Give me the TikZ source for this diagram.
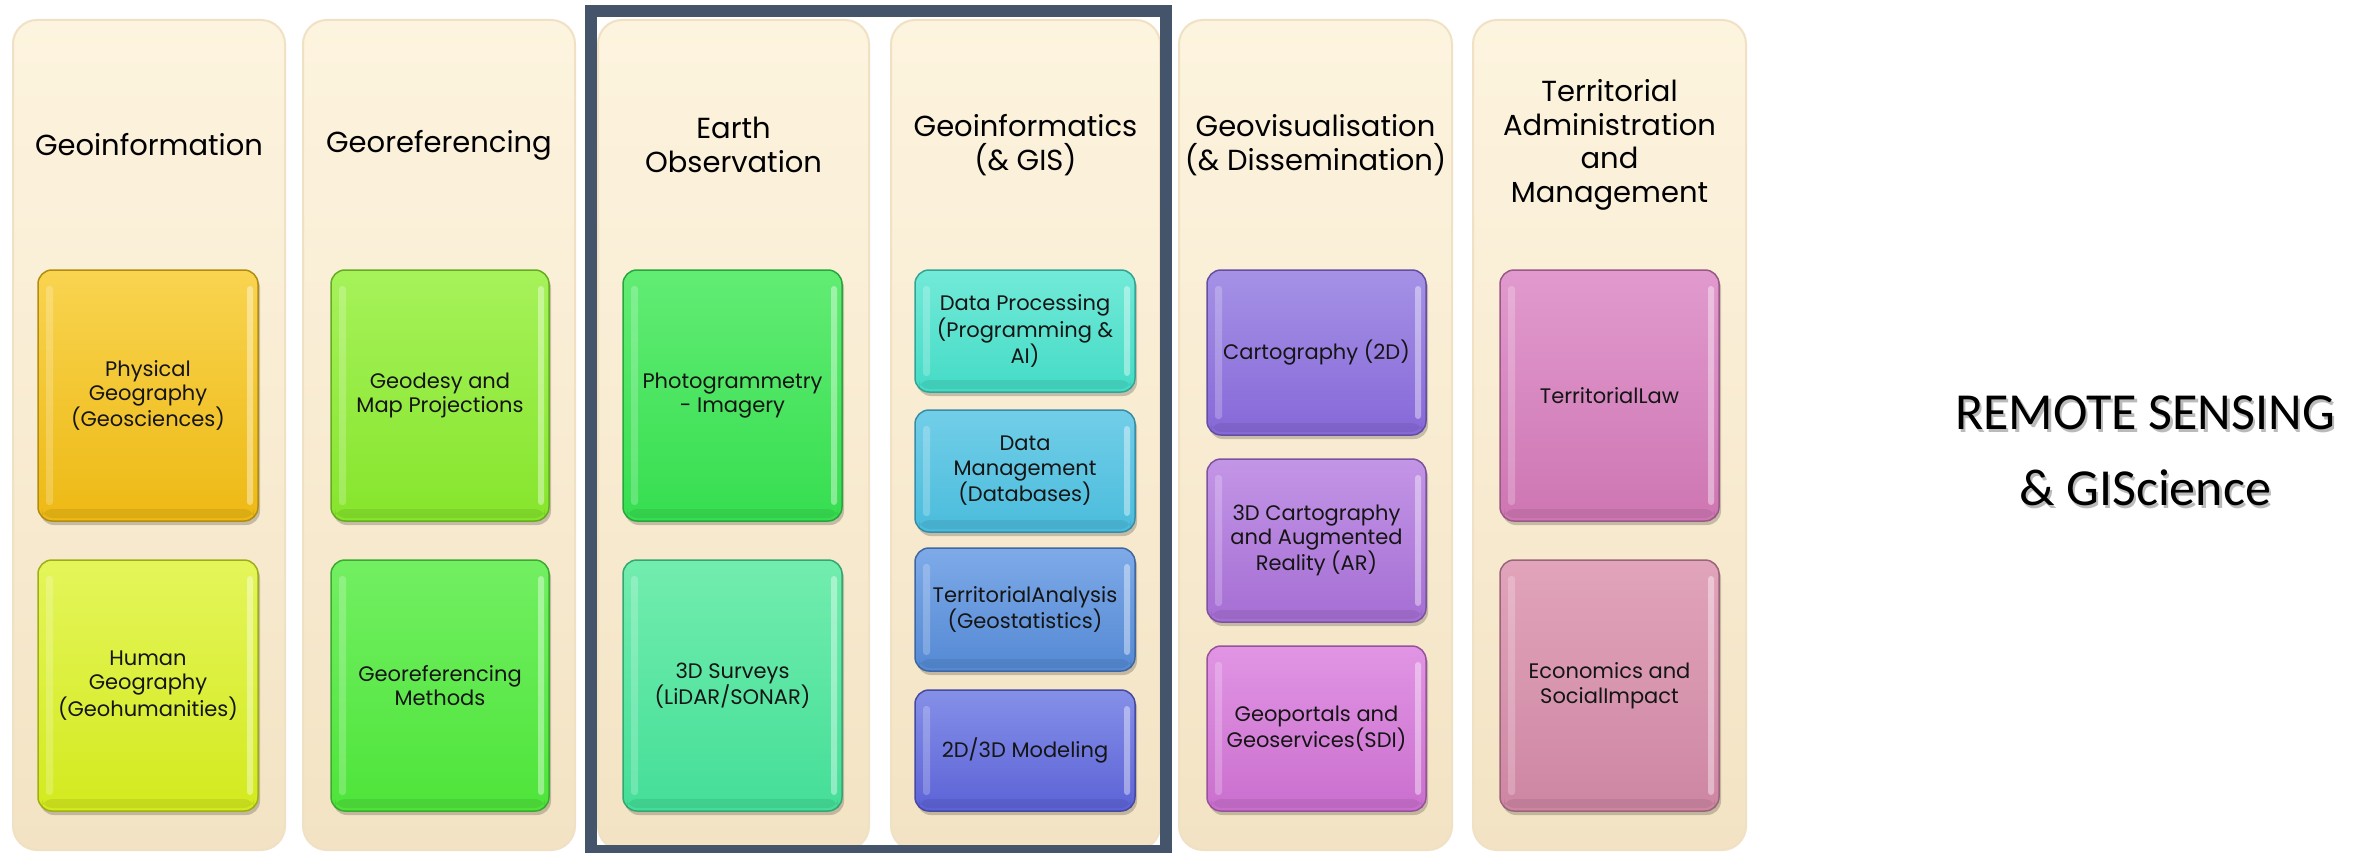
\documentclass[tikz,border=0pt]{standalone}
\usepackage{fontspec}
\setmainfont{Poppins}
\newfontfamily\carlito{Carlito}
\definecolor{colTop}{HTML}{FDF4DF}
\definecolor{colBot}{HTML}{F3E3C4}
\definecolor{colEdge}{HTML}{F0E1C4}
\definecolor{frameC}{HTML}{44546A}
\definecolor{txt}{HTML}{151515}
% box colours (top / bottom)
\definecolor{physT}{HTML}{F9D450}\definecolor{physB}{HTML}{EDB914}
\definecolor{humT}{HTML}{E4F55A}\definecolor{humB}{HTML}{D3EA1E}
\definecolor{geodT}{HTML}{A6F25A}\definecolor{geodB}{HTML}{86E52C}
\definecolor{gmetT}{HTML}{72EF62}\definecolor{gmetB}{HTML}{4EE43A}
\definecolor{photT}{HTML}{62EC74}\definecolor{photB}{HTML}{36DE50}
\definecolor{survT}{HTML}{72EDAE}\definecolor{survB}{HTML}{44DE98}
\definecolor{dprT}{HTML}{72EAD8}\definecolor{dprB}{HTML}{44DBC6}
\definecolor{dmgT}{HTML}{72CEE8}\definecolor{dmgB}{HTML}{4ABCDC}
\definecolor{tanT}{HTML}{7EAAE8}\definecolor{tanB}{HTML}{5489D4}
\definecolor{modT}{HTML}{8590E8}\definecolor{modB}{HTML}{5C62D6}
\definecolor{carT}{HTML}{A592E6}\definecolor{carB}{HTML}{8768D8}
\definecolor{c3dT}{HTML}{C395E6}\definecolor{c3dB}{HTML}{A56ED4}
\definecolor{gpoT}{HTML}{E195E4}\definecolor{gpoB}{HTML}{CA6ECE}
\definecolor{lawT}{HTML}{E19ACE}\definecolor{lawB}{HTML}{CE76B2}
\definecolor{ecoT}{HTML}{E1A4BA}\definecolor{ecoB}{HTML}{CE86A2}

\newcommand\colnode[3]{%
  \node[colbox, minimum width={#3pt-#2pt}, minimum height=830pt] (#1) at ({(#2+#3)/2},435) {};}
\newcommand\gbox[7]{% name, x1, y1, x2, y2, colour prefix, text
  \fill[black, opacity=.2, rounded corners=14pt] (#2+2,#3+4) rectangle (#4+2,#5+4);
  \node[gb, top color=#6T, bottom color=#6B, draw=#6B!75!black,
        minimum width={#4pt-#2pt}, minimum height={#5pt-#3pt}] (#1) at ({(#2+#4)/2},{(#3+#5)/2}) {#7};
  \fill[white, opacity=.22, rounded corners=3pt] (#2+8,#3+16) rectangle (#2+15,#5-16);
  \fill[white, opacity=.4, rounded corners=3pt] (#4-11,#3+16) rectangle (#4-5,#5-16);
  \fill[black, opacity=.07, rounded corners=10pt] (#2+4,#5-12) rectangle (#4-4,#5-3);
}

\begin{document}
\begin{tikzpicture}[x=1pt,y=-1pt,
  colbox/.style={rectangle, rounded corners=24pt, top color=colTop, bottom color=colBot,
                 draw=colEdge, line width=2pt, inner sep=0pt},
  coltitle/.style={align=center, font=\fontsize{29}{33.5}\selectfont, text=black, inner sep=0pt},
  gb/.style={rectangle, rounded corners=14pt, line width=1.5pt, inner sep=0pt, align=center,
             font=\fontsize{21}{24.5}\selectfont, text=txt},
  framebox/.style={rectangle, draw=frameC, line width=11.5pt, inner sep=0pt},
  bigtext/.style={align=center, font=\carlito\fontsize{52}{76}\selectfont, inner sep=0pt}]
\useasboundingbox (0,0) rectangle (2379,853);
\fill[white] (0,0) rectangle (2379,853);

% columns
\colnode{c1}{13}{285}
\colnode{c2}{303}{575}
\colnode{c3}{598}{869}
\colnode{c4}{891}{1160}
\colnode{c5}{1179}{1452}
\colnode{c6}{1473}{1746}

% titles
\node[coltitle] (t1) at (149,145) {Geoinformation};
\node[coltitle] (t2) at (439,145) {Georeferencing};
\node[coltitle] (t3) at (733.5,145) {Earth\\Observation};
\node[coltitle] (t4) at (1025.5,145) {Geoinformatics\\(\& GIS)};
\node[coltitle] (t5) at (1315.5,145) {Geovisualisation\\(\& Dissemination)};
\node[coltitle] (t6) at (1609.5,145) {Territorial\\Administration\\and\\Management};

% boxes
\gbox{b11}{38}{270}{258}{521}{phys}{Physical\\Geography\\(Geosciences)}
\gbox{b12}{38}{560}{258}{811}{hum}{Human\\Geography\\(Geohumanities)}
\gbox{b21}{331}{270}{549}{521}{geod}{Geodesy and\\Map Projections}
\gbox{b22}{331}{560}{549}{811}{gmet}{Georeferencing\\Methods}
\gbox{b31}{623}{270}{842}{521}{phot}{Photogrammetry\\- Imagery}
\gbox{b32}{623}{560}{842}{811}{surv}{3D Surveys\\(LiDAR/SONAR)}
\gbox{b41}{915}{270}{1135}{392}{dpr}{Data Processing\\(Programming \&\\AI)}
\gbox{b42}{915}{410}{1135}{532}{dmg}{Data\\Management\\(Databases)}
\gbox{b43}{915}{548}{1135}{671}{tan}{TerritorialAnalysis\\(Geostatistics)}
\gbox{b44}{915}{690}{1135}{811}{mod}{2D/3D Modeling}
\gbox{b51}{1207}{270}{1426}{435}{car}{Cartography (2D)}
\gbox{b52}{1207}{459}{1426}{622}{c3d}{3D Cartography\\and Augmented\\Reality (AR)}
\gbox{b53}{1207}{646}{1426}{811}{gpo}{Geoportals and\\Geoservices(SDI)}
\gbox{b61}{1500}{270}{1719}{521}{law}{TerritorialLaw}
\gbox{b62}{1500}{560}{1719}{811}{eco}{Economics and\\SocialImpact}

% frame around Earth Observation and Geoinformatics
\node[framebox, minimum width=575pt, minimum height=840pt] (frame) at (878.5,431) {};

% side text
\node[bigtext, text=black!45, opacity=.6] (rsshadow) at (2147.5,453.5) {REMOTE SENSING\\\& GIScience};
\node[bigtext, text=black] (rs) at (2145,451) {REMOTE SENSING\\\& GIScience};
\end{tikzpicture}
\end{document}
